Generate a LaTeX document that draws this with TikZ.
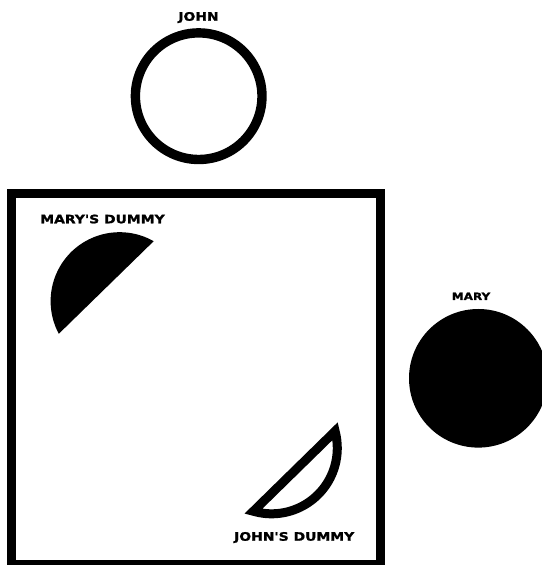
\documentclass[tikz,border=0pt]{standalone}
\usepackage{fontspec}
\newfontfamily\lblfont{DejaVu Sans}[FakeStretch=1.2,FakeBold=1.6]
\begin{document}
\begin{tikzpicture}[x=1pt,y=1pt,
  lbl/.style={font=\lblfont\bfseries\fontsize{11.6}{13}\selectfont, anchor=base, inner sep=0pt},
  lblsmall/.style={font=\lblfont\bfseries\fontsize{10}{12}\selectfont, anchor=base, inner sep=0pt},
  ring/.style={draw=black, line width=9.4pt},
  frame/.style={draw=black, line width=9pt, miter limit=10},
  solid/.style={fill=black},
  hollow/.style={draw=black, line width=9pt, line join=miter, miter limit=10}]
\useasboundingbox (0,0) rectangle (541,565);
% John
\node[ring, circle, minimum size=126.6pt, inner sep=0pt] (john) at (198.7,468.8) {};
\node[lbl] (johnlbl) at (198.5,544.3) {JOHN};
% Mary
\node[solid, circle, minimum size=138.6pt, inner sep=0pt] (mary) at (478.3,186.7) {};
\node[lblsmall] (marylbl) at (471,265) {MARY};
% Box
\draw[frame] (11.7,0.5) rectangle (380,371.5);
% Mary's dummy (filled segment)
\coordinate (mdc) at (119.6,263.8);
\fill[solid] (mdc) ++(60.4:69) arc[start angle=60.4, end angle=208.2, radius=69] -- cycle;
\node[lbl] (mdlbl) at (102.5,341.7) {MARY'S DUMMY};
% John's dummy (outlined segment)
\coordinate (jdc) at (271.6,116.9);
\draw[hollow] (jdc) ++(-106.1:65.7) arc[start angle=-106.1, end angle=14.9, radius=65.7] -- cycle;
\node[lbl] (jdlbl) at (294.2,24.3) {JOHN'S DUMMY};
\end{tikzpicture}
\end{document}
